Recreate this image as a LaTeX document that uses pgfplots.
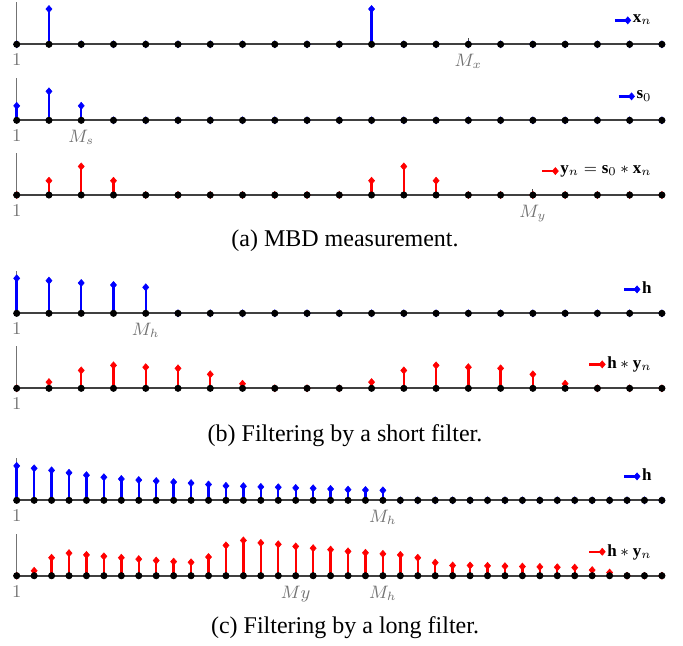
\documentclass[border=0pt]{standalone}
\usepackage{fontspec}
\setmainfont{Liberation Serif}
\usepackage{pgfplots}
\pgfplotsset{compat=1.18}

\pgfplotsset{
  panel/.style={
    width=322.6pt, height=21pt, scale only axis, clip=false,
    xmin=1, ymin=0,
    axis x line=bottom, axis y line=left,
    x axis line style={-, black!75, line width=1pt},
    y axis line style={-, black!55, line width=0.4pt},
    ytick=\empty,
    tick align=inside, major tick length=3pt,
    every tick/.style={black!70, line width=0.5pt},
    tick label style={font=\fontsize{9}{10}\selectfont, text=black!55},
    xticklabel style={yshift=-1.5pt},
    legend style={draw=none, fill=none, inner sep=0pt,
      at={(rel axis cs:1,0.57)}, anchor=east, xshift=-4pt,
      font=\fontsize{8.5}{10}\selectfont, nodes={inner sep=1pt}},
  },
  stem/.style={ycomb, #1, line width=1.2pt, mark=diamond*, mark size=1.75pt,
    mark options={solid, fill=#1, line width=0.3pt, xscale=1.15},
    legend image code/.code={
      \draw[##1, sharp plot, mark repeat=2, mark phase=2]
        plot coordinates {(0pt,0pt) (6.5pt,0pt)};}},
  dots/.style={black, only marks, mark=*, mark size=1.55pt, forget plot},
}

\begin{document}
\begin{tikzpicture}
\path[use as bounding box] (0,0) rectangle (341.5pt,-322.5pt);

% (a) x_n
\begin{axis}[panel, at={(8.35pt,-22.15pt)}, anchor=south west,
  xmax=21, ymax=1.19, xtick={1,15}, xticklabels={$1$,$M_x$}]
\addplot[stem=blue] coordinates {(1,0) (2,1) (3,0) (4,0) (5,0) (6,0) (7,0)
  (8,0) (9,0) (10,0) (11,0) (12,1) (13,0) (14,0) (15,0) (16,0) (17,0)
  (18,0) (19,0) (20,0) (21,0)};
\addplot[dots] coordinates {(1,0) (2,0) (3,0) (4,0) (5,0) (6,0) (7,0)
  (8,0) (9,0) (10,0) (11,0) (12,0) (13,0) (14,0) (15,0) (16,0) (17,0)
  (18,0) (19,0) (20,0) (21,0)};
\legend{$\mathbf{x}_n$}
\end{axis}

% s_0
\begin{axis}[panel, at={(8.35pt,-60.15pt)}, anchor=south west,
  xmax=21, ymax=1.45, xtick={1,3}, xticklabels={$1$,$M_s$}]
\addplot[stem=blue] coordinates {(1,0.5) (2,1) (3,0.5) (4,0) (5,0) (6,0)
  (7,0) (8,0) (9,0) (10,0) (11,0) (12,0) (13,0) (14,0) (15,0) (16,0)
  (17,0) (18,0) (19,0) (20,0) (21,0)};
\addplot[dots] coordinates {(1,0) (2,0) (3,0) (4,0) (5,0) (6,0) (7,0)
  (8,0) (9,0) (10,0) (11,0) (12,0) (13,0) (14,0) (15,0) (16,0) (17,0)
  (18,0) (19,0) (20,0) (21,0)};
\legend{$\mathbf{s}_0$}
\end{axis}

% y_n
\begin{axis}[panel, at={(8.35pt,-97.5pt)}, anchor=south west,
  xmax=21, ymax=1.47, xtick={1,17}, xticklabels={$1$,$M_y$}]
\addplot[stem=red] coordinates {(1,0) (2,0.5) (3,1) (4,0.5) (5,0) (6,0)
  (7,0) (8,0) (9,0) (10,0) (11,0) (12,0.5) (13,1) (14,0.5) (15,0) (16,0)
  (17,0) (18,0) (19,0) (20,0) (21,0)};
\addplot[dots] coordinates {(1,0) (2,0) (3,0) (4,0) (5,0) (6,0) (7,0)
  (8,0) (9,0) (10,0) (11,0) (12,0) (13,0) (14,0) (15,0) (16,0) (17,0)
  (18,0) (19,0) (20,0) (21,0)};
\legend{$\mathbf{y}_n=\mathbf{s}_0\ast\mathbf{x}_n$}
\end{axis}

\node[font=\fontsize{12}{14}\selectfont] at (172.5pt,-120.5pt) {(a) MBD measurement.};

% (b) short h
\begin{axis}[panel, at={(8.35pt,-156.65pt)}, anchor=south west,
  xmax=21, ymax=1.2, xtick={1,5}, xticklabels={$1$,$M_h$}]
\addplot[stem=blue] coordinates {(1,1) (2,0.933) (3,0.867) (4,0.81)
  (5,0.743) (6,0) (7,0) (8,0) (9,0) (10,0) (11,0) (12,0) (13,0) (14,0)
  (15,0) (16,0) (17,0) (18,0) (19,0) (20,0) (21,0)};
\addplot[dots] coordinates {(1,0) (2,0) (3,0) (4,0) (5,0) (6,0) (7,0)
  (8,0) (9,0) (10,0) (11,0) (12,0) (13,0) (14,0) (15,0) (16,0) (17,0)
  (18,0) (19,0) (20,0) (21,0)};
\legend{$\mathbf{h}$}
\end{axis}

% h * y_n
\begin{axis}[panel, at={(8.35pt,-194.15pt)}, anchor=south west,
  xmax=21, ymax=1.83, xtick={1}, xticklabels={$1$}]
\addplot[stem=red] coordinates {(1,0) (2,0.27) (3,0.78) (4,1) (5,0.92)
  (6,0.87) (7,0.61) (8,0.2) (9,0) (10,0) (11,0) (12,0.27) (13,0.78) (14,1)
  (15,0.92) (16,0.87) (17,0.61) (18,0.2) (19,0) (20,0) (21,0)};
\addplot[dots] coordinates {(1,0) (2,0) (3,0) (4,0) (5,0) (6,0) (7,0)
  (8,0) (9,0) (10,0) (11,0) (12,0) (13,0) (14,0) (15,0) (16,0) (17,0)
  (18,0) (19,0) (20,0) (21,0)};
\legend{$\mathbf{h}\ast\mathbf{y}_n$}
\end{axis}

\node[font=\fontsize{12}{14}\selectfont] at (172.5pt,-218pt) {(b) Filtering by a short filter.};

% (c) long h
\begin{axis}[panel, at={(8.35pt,-250.15pt)}, anchor=south west,
  xmax=38, ymax=1.22, xtick={1,22}, xticklabels={$1$,$M_h$}]
\addplot[stem=blue] coordinates {(1,1) (2,0.93) (3,0.87) (4,0.8) (5,0.73)
  (6,0.67) (7,0.62) (8,0.59) (9,0.56) (10,0.53) (11,0.5) (12,0.46)
  (13,0.42) (14,0.41) (15,0.39) (16,0.38) (17,0.36) (18,0.35) (19,0.33)
  (20,0.31) (21,0.3) (22,0.29) (23,0) (24,0) (25,0) (26,0) (27,0) (28,0)
  (29,0) (30,0) (31,0) (32,0) (33,0) (34,0) (35,0) (36,0) (37,0) (38,0)};
\addplot[dots] coordinates {(1,0) (2,0) (3,0) (4,0) (5,0) (6,0) (7,0)
  (8,0) (9,0) (10,0) (11,0) (12,0) (13,0) (14,0) (15,0) (16,0) (17,0)
  (18,0) (19,0) (20,0) (21,0) (22,0) (23,0) (24,0) (25,0) (26,0) (27,0)
  (28,0) (29,0) (30,0) (31,0) (32,0) (33,0) (34,0) (35,0) (36,0) (37,0)
  (38,0)};
\legend{$\mathbf{h}$}
\end{axis}

% h * y_n, long
\begin{axis}[panel, at={(8.35pt,-287.85pt)}, anchor=south west,
  xmax=38, ymax=1.19, xtick={1,17,22}, xticklabels={$1$,$My$,$M_h$}]
\addplot[stem=red] coordinates {(1,0) (2,0.14) (3,0.51) (4,0.64) (5,0.59)
  (6,0.55) (7,0.51) (8,0.47) (9,0.43) (10,0.4) (11,0.38) (12,0.53)
  (13,0.86) (14,1) (15,0.93) (16,0.89) (17,0.83) (18,0.78) (19,0.74)
  (20,0.69) (21,0.65) (22,0.62) (23,0.59) (24,0.51) (25,0.37) (26,0.29)
  (27,0.29) (28,0.28) (29,0.27) (30,0.26) (31,0.25) (32,0.24) (33,0.23)
  (34,0.16) (35,0.09) (36,0) (37,0) (38,0)};
\addplot[dots] coordinates {(1,0) (2,0) (3,0) (4,0) (5,0) (6,0) (7,0)
  (8,0) (9,0) (10,0) (11,0) (12,0) (13,0) (14,0) (15,0) (16,0) (17,0)
  (18,0) (19,0) (20,0) (21,0) (22,0) (23,0) (24,0) (25,0) (26,0) (27,0)
  (28,0) (29,0) (30,0) (31,0) (32,0) (33,0) (34,0) (35,0) (36,0) (37,0)
  (38,0)};
\legend{$\mathbf{h}\ast\mathbf{y}_n$}
\end{axis}

\node[font=\fontsize{12}{14}\selectfont] at (172.5pt,-314pt) {(c) Filtering by a long filter.};
\end{tikzpicture}
\end{document}
